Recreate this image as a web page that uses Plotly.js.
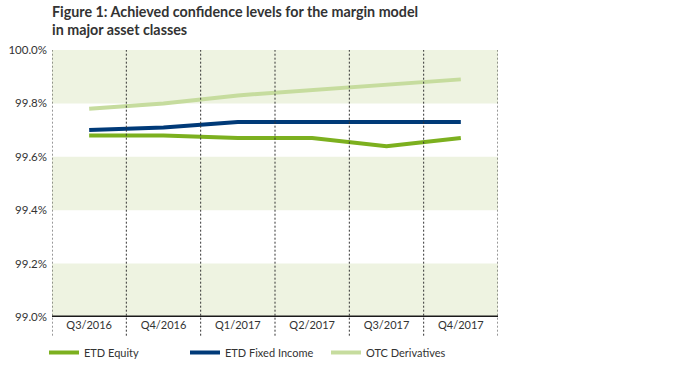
<!DOCTYPE html>
<html>
<head>
<meta charset="utf-8">
<script src="https://cdn.plot.ly/plotly-3.0.1.min.js"></script>
<style>html,body{margin:0;padding:0;background:#fff;}#chart{width:700px;height:371px;}</style>
</head>
<body>
<div id="chart"></div>
<script>
var quarters = ["Q3/2016", "Q4/2016", "Q1/2017", "Q2/2017", "Q3/2017", "Q4/2017"];
var etdEquity = [99.68, 99.68, 99.67, 99.67, 99.64, 99.67];
var etdFixedIncome = [99.70, 99.71, 99.73, 99.73, 99.73, 99.73];
var otcDerivatives = [99.78, 99.80, 99.83, 99.85, 99.87, 99.89];
var bandLows = [99.0, 99.4, 99.8];
var bandHeight = 0.2;

var FONT = "Lato, 'Open Sans', sans-serif";

var traces = [
  {x: quarters, y: etdEquity, name: "ETD Equity", type: "scatter", mode: "lines",
   line: {color: "#7cb01f", width: 4}},
  {x: quarters, y: etdFixedIncome, name: "ETD Fixed Income", type: "scatter", mode: "lines",
   line: {color: "#003a78", width: 4}},
  {x: quarters, y: otcDerivatives, name: "OTC Derivatives", type: "scatter", mode: "lines",
   line: {color: "#c6dc9e", width: 4}}
];

var shapes = [];
bandLows.forEach(function (b) {
  shapes.push({type: "rect", xref: "paper", yref: "y", x0: 0, x1: 1, y0: b, y1: b + bandHeight,
    fillcolor: "#eef3e1", line: {width: 0}, layer: "below"});
});
for (var i = 0; i <= quarters.length; i++) {
  shapes.push({type: "line", xref: "x", yref: "paper", x0: i - 0.5, x1: i - 0.5, y0: -0.07, y1: 1,
    line: {color: "#333", width: 1, dash: "2px,2px"}, layer: "above"});
}

var layout = {
  width: 700, height: 371,
  margin: {l: 52, r: 202, t: 50, b: 54, autoexpand: false},
  paper_bgcolor: "#fff", plot_bgcolor: "#fff",
  font: {family: FONT, size: 11, color: "#333"},
  title: {text: "<b>Figure 1: Achieved confidence levels for the margin model<br>in major asset classes</b>",
    xref: "container", yref: "container", x: 52 / 700, xanchor: "left", y: 0.955, yanchor: "top",
    font: {family: FONT, size: 14.3, color: "#333"}},
  xaxis: {type: "category", range: [-0.5, 5.5], showgrid: false, zeroline: false,
    showline: false, ticks: "", tickfont: {size: 11, color: "#333"}, fixedrange: true},
  yaxis: {range: [99.0, 100.0], dtick: 0.2, tick0: 99.0, tickformat: ".1f", ticksuffix: "%",
    showgrid: false, zeroline: false, showline: false, ticks: "", ticklabelstandoff: 4,
    tickfont: {size: 11.5, color: "#333"}, fixedrange: true},
  shapes: shapes.concat([{type: "line", xref: "paper", yref: "y", x0: 0, x1: 1, y0: 99.0, y1: 99.0,
    line: {color: "#1a1a1a", width: 3}, layer: "above"}]),
  showlegend: true,
  legend: {orientation: "h", xref: "container", yref: "container", x: 44 / 700, xanchor: "left",
    y: 1 - 338 / 371, yanchor: "top",
    entrywidth: 96, entrywidthmode: "pixels", itemwidth: 30,
    font: {family: FONT, size: 11, color: "#333"}, bgcolor: "rgba(0,0,0,0)"}
};

Plotly.newPlot("chart", traces, layout, {displayModeBar: false, staticPlot: true});
</script>
</body>
</html>
